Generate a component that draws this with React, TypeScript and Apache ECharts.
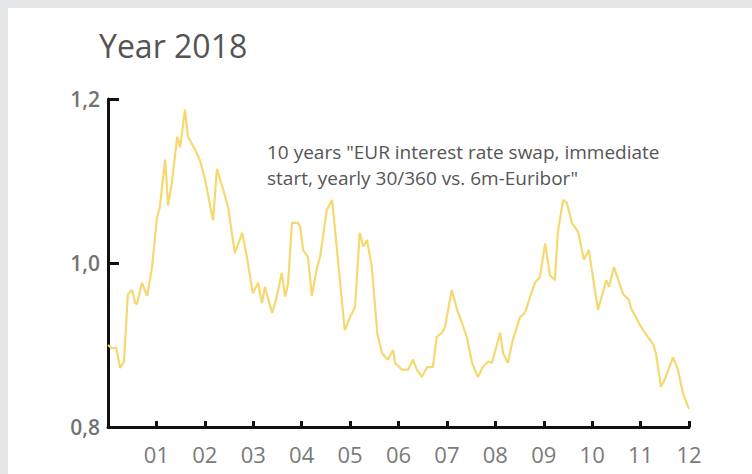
import React, { useEffect, useRef } from "react";
import * as echarts from "echarts";

const titleText = "Year 2018";
const noteLines = [
  '10 years "EUR interest rate swap, immediate',
  'start, yearly 30/360 vs. 6m-Euribor"',
];
const monthLabels = ["01", "02", "03", "04", "05", "06", "07", "08", "09", "10", "11", "12"];
const yTicks = [0.8, 1.0, 1.2];

// position within the year, in months (0 = start of January, 12 = end of December)
const monthPos = [
  0, 0.08, 0.17, 0.25, 0.33, 0.41, 0.5, 0.56, 0.6, 0.7, 0.81, 0.91,
  1.01, 1.07, 1.18, 1.24, 1.32, 1.43, 1.49, 1.59, 1.65, 1.8, 1.9,
  2.0, 2.17, 2.25, 2.38, 2.48, 2.62, 2.73, 2.77, 2.87, 2.99,
  3.1, 3.18, 3.24, 3.39, 3.47, 3.59, 3.66, 3.72, 3.8, 3.92, 3.97,
  4.03, 4.13, 4.21, 4.32, 4.38, 4.52, 4.63, 4.69, 4.79, 4.89,
  5.0, 5.1, 5.2, 5.27, 5.35, 5.45, 5.56, 5.66, 5.78, 5.89, 5.93,
  6.07, 6.2, 6.3, 6.38, 6.48, 6.59, 6.71, 6.79, 6.9, 6.96,
  7.1, 7.21, 7.31, 7.41, 7.52, 7.64, 7.74, 7.85, 7.93,
  8.1, 8.16, 8.26, 8.36, 8.51, 8.61, 8.72, 8.82, 8.92,
  9.03, 9.13, 9.23, 9.29, 9.4, 9.48, 9.58, 9.71, 9.83, 9.93,
  10.12, 10.29, 10.35, 10.45, 10.64, 10.76, 10.8,
  11.01, 11.11, 11.26, 11.32, 11.42, 11.52, 11.67, 11.77, 11.88, 12.0,
];
const swapRate = [
  0.9, 0.896, 0.897, 0.872, 0.88, 0.962, 0.967, 0.951, 0.95, 0.976, 0.96, 0.995,
  1.055, 1.068, 1.126, 1.07, 1.098, 1.154, 1.141, 1.187, 1.154, 1.138, 1.125,
  1.103, 1.052, 1.115, 1.089, 1.068, 1.012, 1.03, 1.037, 1.007, 0.963,
  0.976, 0.951, 0.971, 0.939, 0.955, 0.988, 0.959, 0.975, 1.049, 1.049, 1.044,
  1.016, 1.007, 0.96, 0.995, 1.007, 1.065, 1.077, 1.04, 0.979, 0.918,
  0.934, 0.946, 1.037, 1.02, 1.028, 0.995, 0.915, 0.89, 0.882, 0.894, 0.878,
  0.87, 0.87, 0.882, 0.87, 0.861, 0.873, 0.873, 0.91, 0.915, 0.922,
  0.967, 0.943, 0.927, 0.91, 0.878, 0.861, 0.873, 0.88, 0.878,
  0.915, 0.89, 0.878, 0.906, 0.934, 0.939, 0.959, 0.976, 0.983,
  1.024, 0.985, 0.979, 1.037, 1.077, 1.073, 1.049, 1.038, 1.004, 1.016,
  0.943, 0.979, 0.971, 0.995, 0.962, 0.955, 0.945,
  0.922, 0.913, 0.901, 0.889, 0.849, 0.861, 0.885, 0.87, 0.84, 0.822,
];

const FONT = "'Open Sans', 'Noto Sans', sans-serif";

export default function App() {
  const ref = useRef<HTMLDivElement>(null);
  useEffect(() => {
    if (!ref.current) return;
    const chart = echarts.init(ref.current, undefined, { renderer: "svg" });
    chart.setOption({
      animation: false,
      backgroundColor: "#e5e6e8",
      graphic: [
        {
          type: "rect",
          z: -10,
          shape: { x: 8, y: 8, width: 744, height: 466 },
          style: { fill: "#ffffff" },
        },
        {
          type: "text",
          left: 267,
          top: 139,
          style: {
            text: noteLines.join("\n"),
            font: `19px ${FONT}`,
            fill: "#555555",
            lineHeight: 26,
          },
        },
      ],
      title: {
        text: titleText,
        left: 94,
        top: 24,
        textStyle: { fontFamily: FONT, fontSize: 32, fontWeight: "normal", color: "#555555" },
      },
      grid: { left: 108, right: 63, top: 99, bottom: 47, containLabel: false },
      xAxis: {
        type: "value",
        min: 0,
        max: 12,
        interval: 1,
        splitLine: { show: false },
        axisLine: { show: true, lineStyle: { color: "#111111", width: 3 } },
        axisTick: { show: true, inside: true, length: 6, lineStyle: { color: "#111111", width: 3 } },
        axisLabel: {
          margin: 16,
          fontFamily: FONT,
          fontSize: 22,
          color: "#7a7a7a",
          formatter: (v: number) => (v >= 1 ? monthLabels[Math.round(v) - 1] : ""),
        },
      },
      yAxis: {
        type: "value",
        min: yTicks[0],
        max: yTicks[yTicks.length - 1],
        interval: 0.2,
        splitLine: { show: false },
        axisLine: { show: true, lineStyle: { color: "#111111", width: 3 } },
        axisTick: { show: true, inside: true, length: 11, lineStyle: { color: "#111111", width: 3 } },
        axisLabel: {
          margin: 8,
          fontFamily: FONT,
          fontSize: 21,
          fontWeight: 600,
          color: "#737373",
          formatter: (v: number) => v.toFixed(1).replace(".", ","),
        },
      },
      series: [
        {
          type: "line",
          data: monthPos.map((m, i) => [m, swapRate[i]]),
          showSymbol: false,
          smooth: false,
          lineStyle: { color: "#f5d970", width: 2.2 },
        },
      ],
    });
    return () => chart.dispose();
  }, []);
  return (
    <div
      ref={ref}
      style={{ position: "absolute", left: 0, top: 0, width: 752, height: 474 }}
    />
  );
}
